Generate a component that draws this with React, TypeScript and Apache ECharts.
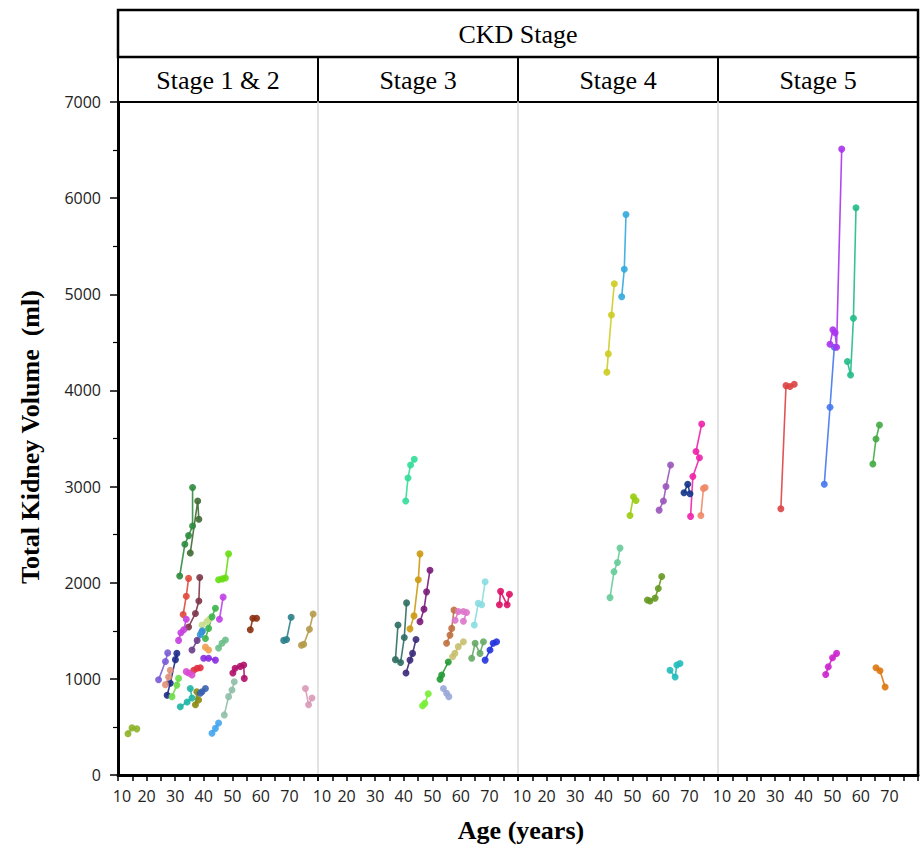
import React, { useEffect, useRef } from "react";
import * as echarts from "echarts";

type Pt = [number, number];

const stageNames = ["Stage 1 & 2", "Stage 3", "Stage 4", "Stage 5"];
const xTickLabels = [10, 20, 30, 40, 50, 60, 70];
const yTickLabels = [0, 1000, 2000, 3000, 4000, 5000, 6000, 7000];

// Stage 1 & 2: each entry = one patient's [age, TKV] measurements
const stage12: Pt[][] = [
  [[13.5, 430], [14.9, 490], [16.6, 480]],
  [[31.6, 2070], [33.4, 2400], [34.7, 2490], [36.1, 2590], [36.1, 2990]],
  [[35.3, 2310], [37.9, 2850], [38.3, 2660]],
  [[32.8, 1670], [33.9, 1860], [34.7, 2045]],
  [[34.7, 1540], [37.1, 1680], [38.3, 1810], [38.6, 2055]],
  [[45.2, 2030], [46.5, 2040], [47.6, 2050], [48.7, 2300]],
  [[45.5, 1620], [46.8, 1850]],
  [[31.2, 1400], [32.0, 1480], [33.0, 1510], [33.9, 1620]],
  [[24.2, 990], [26.6, 1180], [27.4, 1270]],
  [[27.2, 830], [28.3, 955], [30.1, 1200], [30.6, 1265]],
  [[26.6, 940], [27.7, 1020], [28.3, 1090]],
  [[28.9, 815], [30.6, 935], [31.2, 1005]],
  [[31.8, 710], [34.2, 760], [35.9, 800], [35.3, 900]],
  [[37.1, 730], [37.6, 865], [38.2, 780]],
  [[38.8, 850], [39.4, 865], [40.6, 900]],
  [[35.9, 1300], [37.7, 1400], [39.4, 1490]],
  [[39.4, 1560], [41.1, 1595], [42.0, 1620]],
  [[40.6, 1420], [41.7, 1525], [42.9, 1645], [44.1, 1735]],
  [[45.2, 1320], [46.4, 1370], [47.6, 1405]],
  [[40.0, 1215], [41.7, 1215], [44.1, 1195]],
  [[50.2, 1060], [51.0, 1110], [52.8, 1130], [54.0, 1145], [54.2, 1005]],
  [[47.2, 625], [48.7, 815], [49.9, 885], [50.7, 970]],
  [[42.9, 435], [44.1, 485], [45.2, 540]],
  [[56.3, 1510], [57.2, 1630], [58.5, 1630]],
  [[68.0, 1400], [69.0, 1410], [70.6, 1640]],
  [[74.2, 1350], [75.0, 1360], [77.0, 1515], [78.3, 1675]],
  [[75.6, 900], [76.7, 730], [77.9, 800]],
  [[36.5, 1090], [37.7, 1110], [38.8, 1115]],
  [[33.9, 1075], [34.7, 1060], [35.9, 1040]],
  [[40.6, 1330], [41.7, 1300]],
  [[38.8, 1460], [39.5, 1500]],
];
const stage12Colors = [
  "#8db32a", "#2e8b3e", "#3f6b35", "#e0483c", "#7d3548", "#66dd11", "#c040e8",
  "#c63fe0", "#7b5bd6", "#1c2a8a", "#e0907a", "#6edb4a", "#1fb5a6", "#8a8a10",
  "#3a62b0", "#6a3d8a", "#c8dd8c", "#3cb44b", "#6cbf8a", "#8a2be2", "#b0106a",
  "#8fbfa8", "#45a5ee", "#8b3010", "#2a7f8a", "#b59a4a", "#d99ab8", "#e03040",
  "#d94bd0", "#f0a050", "#3399dd",
];

const stage3: Pt[][] = [
  [[40.7, 2850], [41.5, 3090], [42.4, 3225], [43.7, 3285]],
  [[42.2, 1520], [43.6, 1655], [45.1, 2030], [45.7, 2300]],
  [[45.7, 1595], [47.1, 1725], [48.0, 1905], [49.2, 2130]],
  [[38.0, 1560], [37.1, 1200], [38.9, 1170], [40.2, 1430], [41.0, 1790]],
  [[40.8, 1060], [42.2, 1195], [43.1, 1265], [44.3, 1410]],
  [[46.6, 720], [47.4, 745], [48.6, 845]],
  [[52.7, 995], [53.3, 1040], [55.6, 1175]],
  [[53.9, 900], [55.0, 850], [55.8, 815]],
  [[57.1, 1230], [57.9, 1265], [59.1, 1335], [60.9, 1385]],
  [[55.0, 1370], [56.2, 1455], [56.8, 1525], [57.6, 1715]],
  [[58.0, 1610], [59.1, 1700], [60.9, 1700], [62.0, 1690], [60.9, 1600]],
  [[64.7, 1560], [66.1, 1785], [67.3, 1770], [68.5, 2010]],
  [[73.5, 1770], [73.9, 1910], [76.2, 1770], [77.0, 1880]],
  [[63.8, 1215], [65.0, 1370], [66.7, 1265], [67.9, 1385]],
  [[68.5, 1195], [70.2, 1300], [71.3, 1370], [72.5, 1385]],
];
const stage3Colors = [
  "#33dd99", "#cc9911", "#7a1a7a", "#2d6e62", "#3b2a7a", "#77ee33", "#229933",
  "#9aa8d8", "#c8c070", "#c07040", "#dd77cc", "#88dde0", "#dd1166", "#66aa66",
  "#2233dd",
];

const stage4: Pt[][] = [
  [[46.3, 4975], [47.2, 5260], [47.8, 5830]],
  [[41.1, 4190], [41.6, 4380], [42.7, 4785], [43.7, 5110]],
  [[49.2, 2700], [50.4, 2895], [51.3, 2855]],
  [[59.4, 2755], [60.9, 2850], [61.8, 3000], [63.4, 3225]],
  [[68.1, 2935], [69.4, 3025], [70.2, 2925]],
  [[70.4, 2690], [71.2, 3105], [73.5, 3300], [72.3, 3365], [74.3, 3650]],
  [[74.0, 2700], [74.9, 2980], [75.5, 2990]],
  [[42.2, 1845], [43.6, 2115], [44.8, 2210], [45.7, 2360]],
  [[55.3, 1820], [56.2, 1810], [58.0, 1840], [59.1, 1940], [60.3, 2065]],
  [[63.2, 1090], [65.0, 1020], [65.6, 1145], [66.7, 1160]],
];
const stage4Colors = [
  "#33aadd", "#cccc22", "#99cc11", "#9955bb", "#113388", "#ee22aa", "#ee8866",
  "#66cc99", "#669922", "#22bbbb",
];

const stage5: Pt[][] = [
  [[32.0, 2770], [33.8, 4050], [35.2, 4040], [36.7, 4065]],
  [[47.2, 3025], [49.2, 3825], [50.7, 4450]],
  [[49.2, 4480], [50.2, 4630], [51.0, 4600], [51.5, 4450], [53.3, 6510]],
  [[55.3, 4300], [56.4, 4160], [57.4, 4750], [58.3, 5900]],
  [[64.2, 3235], [65.3, 3495], [66.5, 3640]],
  [[47.7, 1045], [48.6, 1125], [50.1, 1220], [51.5, 1265]],
  [[65.3, 1115], [66.7, 1085], [68.5, 915]],
];
const stage5Colors = ["#dd4444", "#4477ee", "#aa33ee", "#22bb88", "#44aa44", "#cc22cc", "#dd7711"];

const panels = [
  { data: stage12, colors: stage12Colors },
  { data: stage3, colors: stage3Colors },
  { data: stage4, colors: stage4Colors },
  { data: stage5, colors: stage5Colors },
];

const PLOT_LEFT = 118;
const PANEL_W = 200;
const PLOT_TOP = 102;
const PLOT_H = 673;
const HEAD_TOP = 10;
const HEAD_MID = 57;
const SERIF = "'Liberation Serif', 'Times New Roman', serif";
const SANS = "'Open Sans', sans-serif";

export default function App() {
  const ref = useRef<HTMLDivElement>(null);
  useEffect(() => {
    document.body.style.margin = "0";
    if (!ref.current) return;
    const chart = echarts.init(ref.current, null, { renderer: "svg" });

    const grids: any[] = [];
    const xAxes: any[] = [];
    const yAxes: any[] = [];
    const series: any[] = [];

    panels.forEach((p, pi) => {
      grids.push({ left: PLOT_LEFT + PANEL_W * pi, top: PLOT_TOP, width: PANEL_W, height: PLOT_H });
      xAxes.push({
        type: "value",
        gridIndex: pi,
        min: 10,
        max: 80,
        interval: 5,
        axisLine: { show: true, onZero: false, lineStyle: { color: "#000", width: 3 } },
        axisTick: { show: true, length: 6, lineStyle: { color: "#000", width: 1.5 } },
        splitLine: { show: false },
        axisLabel: {
          margin: 13,
          fontSize: 16,
          fontFamily: SANS,
          color: "#222",
          formatter: (v: number) => {
            if (!xTickLabels.includes(v)) return "";
            if (v === xTickLabels[0]) return "{s|" + v + "}";
            return String(v);
          },
          rich: { s: { padding: [0, 0, 0, 8], fontSize: 16, fontFamily: SANS, color: "#222" } },
        },
      });
      yAxes.push({
        type: "value",
        gridIndex: pi,
        min: 0,
        max: 7000,
        interval: 1000,
        axisLine: {
          show: true,
          onZero: false,
          lineStyle: pi === 0 ? { color: "#000", width: 3 } : { color: "#d9d9d9", width: 1.5 },
        },
        axisTick: { show: pi === 0, length: 8, lineStyle: { color: "#000", width: 1.5 } },
        minorTick: { show: pi === 0, splitNumber: 2, length: 5, lineStyle: { color: "#000", width: 1.2 } },
        splitLine: { show: false },
        minorSplitLine: { show: false },
        axisLabel: {
          show: pi === 0,
          margin: 17,
          fontSize: 16,
          fontFamily: SANS,
          color: "#222",
          formatter: (v: number) => (yTickLabels.includes(v) ? String(v) : ""),
        },
      });
      p.data.forEach((pts, si) => {
        const c = p.colors[si % p.colors.length];
        series.push({
          type: "line",
          xAxisIndex: pi,
          yAxisIndex: pi,
          data: pts,
          symbol: "circle",
          symbolSize: 7,
          showSymbol: true,
          lineStyle: { color: c, width: 1.6, opacity: 0.9 },
          itemStyle: { color: c, opacity: 0.9 },
          silent: true,
          z: 3,
        });
      });
    });

    const graphics: any[] = [
      {
        type: "rect",
        shape: { x: PLOT_LEFT, y: HEAD_TOP, width: PANEL_W * 4, height: HEAD_MID - HEAD_TOP },
        style: { fill: "none", stroke: "#000", lineWidth: 2.5 },
      },
      {
        type: "text",
        x: PLOT_LEFT + PANEL_W * 2,
        y: (HEAD_TOP + HEAD_MID) / 2 + 1,
        style: {
          text: "CKD Stage",
          font: "26px " + SERIF,
          fill: "#000",
          align: "center",
          verticalAlign: "middle",
        },
      },
      {
        type: "line",
        shape: { x1: PLOT_LEFT + PANEL_W * 4, y1: HEAD_MID, x2: PLOT_LEFT + PANEL_W * 4, y2: PLOT_TOP + PLOT_H },
        style: { stroke: "#000", lineWidth: 2.5 },
      },
      {
        type: "text",
        x: 30,
        y: 437,
        rotation: Math.PI / 2,
        style: {
          text: "Total Kidney Volume  (ml)",
          font: "bold 26px " + SERIF,
          fill: "#000",
          align: "center",
          verticalAlign: "middle",
        },
      },
      {
        type: "text",
        x: 521,
        y: 830,
        style: {
          text: "Age (years)",
          font: "bold 26px " + SERIF,
          fill: "#000",
          align: "center",
          verticalAlign: "middle",
        },
      },
    ];
    stageNames.forEach((name, i) => {
      graphics.push({
        type: "rect",
        shape: { x: PLOT_LEFT + PANEL_W * i, y: HEAD_MID, width: PANEL_W, height: PLOT_TOP - HEAD_MID },
        style: { fill: "none", stroke: "#000", lineWidth: 2 },
      });
      graphics.push({
        type: "text",
        x: PLOT_LEFT + PANEL_W * i + PANEL_W / 2,
        y: (HEAD_MID + PLOT_TOP) / 2 + 1,
        style: {
          text: name,
          font: "26px " + SERIF,
          fill: "#000",
          align: "center",
          verticalAlign: "middle",
        },
      });
    });

    chart.setOption({
      animation: false,
      backgroundColor: "#fff",
      grid: grids,
      xAxis: xAxes,
      yAxis: yAxes,
      series,
      graphic: graphics,
    });
    return () => chart.dispose();
  }, []);
  return <div ref={ref} style={{ width: 921, height: 849 }} />;
}
